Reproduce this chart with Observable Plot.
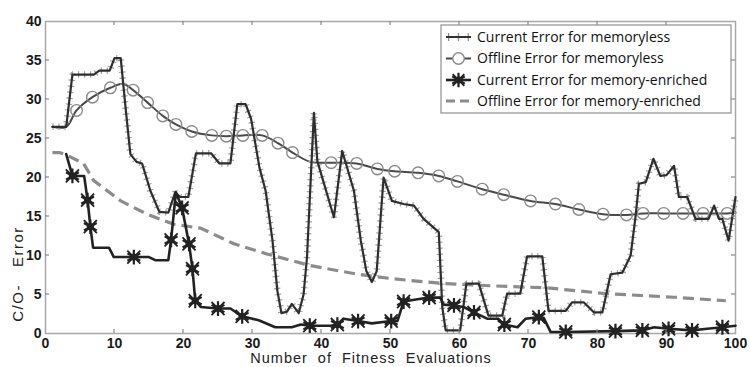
<!DOCTYPE html>
<html><head><meta charset="utf-8">
<script src="https://cdn.jsdelivr.net/npm/d3@7"></script>
<script src="https://cdn.jsdelivr.net/npm/@observablehq/plot@0.6"></script>
<style>body{margin:0;background:#fff}#chart{width:750px;height:367px}</style>
</head><body><div id="chart"></div>
<script>
// ---- data ----
const currentMemorylessX = [1,3,3.9,7,7.8,9.3,10,10.9,11.6,12.3,13.2,14,15.2,16.5,17.8,18.8,19.5,20.7,21.8,24,25.2,26.8,27.8,29,29.8,31,31.9,32.9,33.6,34.2,35,35.7,36.7,37.4,37.9,38.9,39.4,41.8,43,44.7,45.7,46.5,47.3,48,49,50.2,51.9,53.4,54.8,57,57.5,58,60.1,61,62.8,64.2,66.2,66.9,68.8,69.8,72,72.9,75.4,76.3,78,79.5,80.7,81.9,83.6,84.8,85.5,86,87,88.1,89.1,90,91.1,91.8,93,94.2,96.1,96.9,97.6,98.1,99,100];
const currentMemorylessY = [26.5,26.5,33.2,33.2,33.7,33.7,35.3,35.3,29,23,22,21.8,18.3,15.6,15.5,18.1,17.5,17.5,23.1,23.1,21.8,21.8,29.4,29.4,27.5,21.3,18.3,11.9,5.5,2.6,2.8,3.8,2.6,5,9.8,28.3,22.1,14.9,23.4,18.3,11.9,8,6.6,8,20,17,16.6,16.4,14.7,13,3.4,0.4,0.4,6.4,6.4,2.3,2.3,5.1,5.1,9.9,9.9,2.9,2.9,4,4,2.7,2.7,7.6,7.8,10,14.9,19.2,19.4,22.4,20.2,20.3,21.5,17.5,17.5,14.7,14.7,16.4,14.7,14.7,11.9,17.5];

const offlineMemorylessX = [1,3,4.5,6.8,9.4,11.3,12.7,14.8,17,18.9,21.2,24.1,26.2,28.6,31.4,33.7,35.8,38.4,41.4,45.1,48.1,50.6,54,57,59.7,63.3,66.4,70.3,73.9,77.3,80.8,84.2,86.6,89.6,92.4,95.3,98.8,100];
const offlineMemorylessY = [26.5,26.5,28.6,30.3,31.5,32,31.2,29.6,27.9,26.8,25.9,25.4,25.3,25.4,25.4,24.4,23.2,22,21.9,21.8,21.1,20.8,20.6,20.2,19.5,18.5,17.8,17,16.6,15.9,15.3,15.2,15.4,15.4,15.4,15.4,15.4,15.5];
const offlineMemorylessMarked = [0,0,1,1,1,0,1,1,1,1,1,1,1,1,1,1,1,0,1,1,1,1,1,1,1,1,1,1,1,1,1,1,1,1,1,1,1,0];

const currentEnrichedX = [3,3.9,5.6,6.1,6.5,6.9,9.2,9.9,12.8,15,15.9,17.8,18.2,18.9,19.8,20.8,21.3,21.7,22.5,25,26.8,28.5,30.9,33.3,35.7,37,38.3,41.3,42.3,43.2,45.3,47.3,50.1,51,51.9,53.9,55.6,57.2,57.7,59.2,60.6,62.1,64,65.5,66.5,68.4,69.6,71.5,72.2,73.2,75.4,82.6,86.5,88.2,90.3,93.7,95.9,98.1,100];
const currentEnrichedY = [23,20.2,20.2,17.1,13.7,11,11,9.8,9.8,9.8,9.4,9.4,12,18.1,16.1,11.5,8.3,4.2,3.4,3.2,3.2,2.2,1.7,0.8,0.8,1.15,1,1,1.15,1.9,1.6,1.3,1.6,1.6,4.1,4.4,4.6,4.6,3.7,3.6,3.4,2.7,1.9,1.9,1.15,0.8,1.9,2.1,2,0.2,0.2,0.3,0.4,0.8,0.6,0.4,0.6,0.8,1];
const currentEnrichedStars = [3.9,6.1,6.5,12.8,18.2,19.8,20.8,21.3,21.7,25,28.5,38.3,42.3,45.3,50.1,51.9,55.6,59.2,62.1,66.5,71.5,75.4,82.6,86.5,90.3,93.7,98.1];

const offlineEnrichedX = [1,2,3,5.5,7,10.9,14.7,18.6,22.5,27.3,32.1,38.4,45.2,50.5,57.7,65,72.7,81.4,91.1,98.6];
const offlineEnrichedY = [23.2,23.2,22.9,21.8,19.6,17,15.3,14,13.5,11.5,10.2,8.7,7.6,7,6.4,6.1,5.85,5.1,4.65,4.2];

const xTicks = [0,10,20,30,40,50,60,70,80,90,100];
const yTicks = [0,5,10,15,20,25,30,35,40];
const seriesNames = ["Current Error for memoryless","Offline Error for memoryless","Current Error for memory-enriched","Offline Error for memory-enriched"];
const xLabel = "Number of Fitness Evaluations";
const yLabel = "C/O-   Error";

// ---- tables ----
const rows = (xs, ys) => xs.map((x, i) => ({x, y: ys[i]}));
const A = rows(currentMemorylessX, currentMemorylessY);
const B = rows(offlineMemorylessX, offlineMemorylessY);
const Bm = B.filter((d, i) => offlineMemorylessMarked[i]);
const C = rows(currentEnrichedX, currentEnrichedY);
const Cs = C.filter(d => currentEnrichedStars.includes(d.x));
const D = rows(offlineEnrichedX, offlineEnrichedY);

const plot = Plot.plot({
  width: 750, height: 367,
  marginLeft: 45, marginRight: 15, marginTop: 21, marginBottom: 34,
  style: {background: "#fff", fontFamily: "Liberation Sans, Arial, sans-serif", overflow: "visible"},
  x: {domain: [0, 100]},
  y: {domain: [0, 40]},
  marks: [
    Plot.frame({stroke: "#a8a8a8", strokeWidth: 1.5}),
    Plot.axisX(xTicks, {tickSize: 0, tickPadding: 5, fontSize: 14, fontWeight: "bold", fill: "#1a1a1a", label: null}),
    Plot.axisY(yTicks, {tickSize: 0, tickPadding: 4, fontSize: 14, fontWeight: "bold", fill: "#1a1a1a", label: null}),
    Plot.line(D, {x: "x", y: "y", stroke: "#8c8c8c", strokeWidth: 3.2, strokeDasharray: "11,6", strokeLinecap: "butt"}),
    Plot.line(B, {x: "x", y: "y", stroke: "#4a4a4a", strokeWidth: 2, curve: "catmull-rom"}),
    Plot.dot(Bm, {x: "x", y: "y", r: 5.8, stroke: "#8a8a8a", strokeWidth: 1.4, fill: "none"}),
    Plot.line(A, {x: "x", y: "y", stroke: "#a0a0a0", strokeWidth: 6.5, strokeDasharray: "1.2,4.8", strokeLinecap: "butt", strokeLinejoin: "miter"}),
    Plot.line(A, {x: "x", y: "y", stroke: "#2e2e2e", strokeWidth: 2.2}),
    Plot.line(C, {x: "x", y: "y", stroke: "#222", strokeWidth: 2.6}),
    Plot.dot(Cs, {x: "x", y: "y", symbol: "asterisk", r: 7, stroke: "#222", strokeWidth: 2.2}),
    Plot.dot(Cs, {x: "x", y: "y", symbol: "times", r: 6, stroke: "#222", strokeWidth: 1.8}),
    Plot.dot(Cs, {x: "x", y: "y", symbol: "circle", r: 3.6, fill: "#222"})
  ]
});
document.getElementById("chart").appendChild(plot);

// ---- inward ticks, labels, legend ----
const svg = d3.select(plot);
const sx = plot.scale("x"), sy = plot.scale("y");
const X = v => sx.apply(v), Y = v => sy.apply(v);
const x0 = X(0), x1 = X(100), y0 = Y(0), y1 = Y(40);
const tg = svg.append("g").attr("stroke", "#888").attr("stroke-width", 1.2);
xTicks.slice(1, -1).forEach(v => {
  tg.append("line").attr("x1", X(v)).attr("x2", X(v)).attr("y1", y0).attr("y2", y0 - 4);
  tg.append("line").attr("x1", X(v)).attr("x2", X(v)).attr("y1", y1).attr("y2", y1 + 4);
});
yTicks.slice(1, -1).forEach(v => {
  tg.append("line").attr("y1", Y(v)).attr("y2", Y(v)).attr("x1", x0).attr("x2", x0 + 4);
  tg.append("line").attr("y1", Y(v)).attr("y2", Y(v)).attr("x1", x1).attr("x2", x1 - 4);
});

svg.append("text").text(xLabel)
  .attr("x", 371).attr("y", 363).attr("text-anchor", "middle")
  .attr("font-family", "Liberation Sans, Arial, sans-serif").attr("font-size", 14.5)
  .attr("letter-spacing", "1px").attr("word-spacing", "5px").attr("fill", "#222");
svg.append("text").text(yLabel)
  .attr("transform", "translate(23,274) rotate(-90)").attr("text-anchor", "middle")
  .attr("font-family", "Liberation Sans, Arial, sans-serif").attr("font-size", 15)
  .attr("letter-spacing", "1.5px").attr("fill", "#222").style("white-space", "pre");

const lg = svg.append("g");
lg.append("rect").attr("x", 441).attr("y", 25).attr("width", 290).attr("height", 88)
  .attr("fill", "#fff").attr("stroke", "#999").attr("stroke-width", 1.3);
const rowY = [37, 58.5, 80, 101];
const lx1 = 446, lx2 = 471, lxm = 458.5;
// row 1
lg.append("line").attr("x1", lx1 + 2).attr("x2", lx2).attr("y1", rowY[0]).attr("y2", rowY[0]).attr("stroke", "#8f8f8f").attr("stroke-width", 8).attr("stroke-dasharray", "1.3,8.5");
lg.append("line").attr("x1", lx1).attr("x2", lx2).attr("y1", rowY[0]).attr("y2", rowY[0]).attr("stroke", "#333").attr("stroke-width", 2);
// row 2
lg.append("line").attr("x1", lx1).attr("x2", lx2).attr("y1", rowY[1]).attr("y2", rowY[1]).attr("stroke", "#4a4a4a").attr("stroke-width", 2);
lg.append("circle").attr("cx", lxm).attr("cy", rowY[1]).attr("r", 5.8).attr("fill", "#fff").attr("stroke", "#8a8a8a").attr("stroke-width", 1.4);
// row 3
lg.append("line").attr("x1", lx1).attr("x2", lx2).attr("y1", rowY[2]).attr("y2", rowY[2]).attr("stroke", "#222").attr("stroke-width", 2.6);
lg.append("path").attr("d", d3.symbol(d3.symbolAsterisk, 150)()).attr("transform", `translate(${lxm},${rowY[2]})`).attr("fill", "none").attr("stroke", "#222").attr("stroke-width", 2.2);
lg.append("path").attr("d", d3.symbol(d3.symbolTimes, 90)()).attr("transform", `translate(${lxm},${rowY[2]})`).attr("fill", "none").attr("stroke", "#222").attr("stroke-width", 1.8);
lg.append("circle").attr("cx", lxm).attr("cy", rowY[2]).attr("r", 3.6).attr("fill", "#222");
// row 4
lg.append("line").attr("x1", lx1).attr("x2", lx2).attr("y1", rowY[3]).attr("y2", rowY[3]).attr("stroke", "#8c8c8c").attr("stroke-width", 3.2).attr("stroke-dasharray", "9,5");
seriesNames.forEach((s, i) => {
  lg.append("text").text(s).attr("x", 477).attr("y", rowY[i]).attr("dy", "0.35em")
    .attr("text-anchor", "start")
    .attr("font-family", "Open Sans, sans-serif").attr("font-size", 14).attr("fill", "#111");
});
</script>
</body></html>
